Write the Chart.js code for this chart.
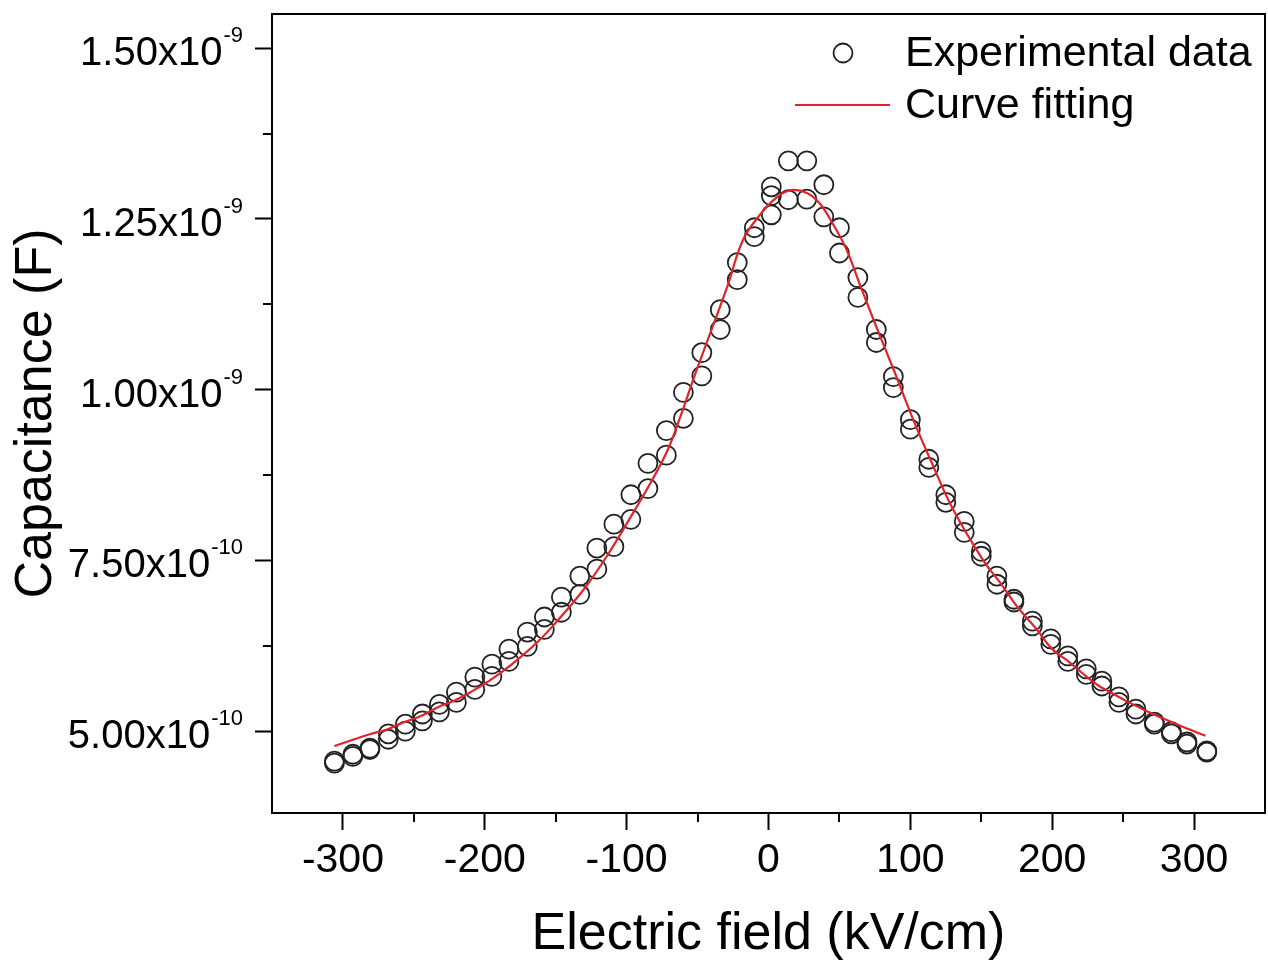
<!DOCTYPE html>
<html>
<head>
<meta charset="utf-8">
<title>Capacitance vs electric field</title>
<script src="https://cdn.jsdelivr.net/npm/chart.js@4.4.0/dist/chart.umd.min.js"></script>
<style>
  html, body { margin: 0; padding: 0; background: #fff; }
  canvas { display: block; }
</style>
</head>
<body>
<canvas id="cvChart" width="1268" height="963"></canvas>
<script>
const NANO = 1e-9;

// electric field (kV/cm) and capacitance (nF), two sweeps
const fieldUp = [-306, -293, -281, -268, -256, -244, -232, -220, -207, -195, -183, -170, -158, -146, -133,
    -121, -109, -97, -85, -72, -60, -47, -34, -22, -10, 2, 14, 27, 39, 50, 63, 76, 88, 100, 113,
    125, 138, 150, 161, 173, 186, 199, 211, 224, 235, 247, 259, 272, 284, 295, 309];
const capUp = [0.456, 0.466, 0.475, 0.496, 0.510, 0.525, 0.539, 0.557, 0.579, 0.598, 0.620, 0.645, 0.667, 0.696, 0.727,
    0.768, 0.803, 0.846, 0.892, 0.940, 0.996, 1.054, 1.117, 1.186, 1.237, 1.297, 1.335, 1.335, 1.300, 1.237, 1.164, 1.088, 1.019, 0.956, 0.898,
    0.846, 0.807, 0.763, 0.727, 0.693, 0.661, 0.635, 0.610, 0.591, 0.573, 0.550, 0.532, 0.513, 0.499, 0.484, 0.471];

const fieldDown = [-306, -293, -281, -268, -256, -244, -232, -220, -207, -195, -183, -170, -158, -146, -133,
    -121, -109, -97, -85, -72, -60, -47, -34, -22, -10, 2, 2, 14, 27, 39, 50, 63, 76, 88, 100, 113,
    125, 138, 150, 161, 173, 186, 199, 211, 224, 235, 247, 259, 272, 284, 295, 309];
const capDown = [0.453, 0.463, 0.473, 0.488, 0.500, 0.515, 0.528, 0.542, 0.561, 0.580, 0.602, 0.624, 0.649, 0.674, 0.700,
    0.737, 0.770, 0.810, 0.855, 0.904, 0.958, 1.020, 1.088, 1.161, 1.224, 1.284, 1.256, 1.278, 1.279, 1.253, 1.200, 1.135, 1.069, 1.003, 0.942, 0.886,
    0.835, 0.791, 0.756, 0.715, 0.689, 0.654, 0.627, 0.602, 0.583, 0.566, 0.542, 0.525, 0.510, 0.496, 0.481, 0.469];

// fitted curve
const fitField = [-306, -292, -280, -268, -257, -245, -233, -222, -210, -198, -187, -175, -163, -152, -130,
    -114, -97, -83, -71, -62, -53, -41, -29, -18, -6, 6, 16, 27, 36, 45, 55, 64, 76, 89, 102, 114,
    130, 151, 163, 175, 189, 200, 212, 224, 233, 240, 254, 268, 282, 296, 308];
const fitCap = [0.478, 0.488, 0.496, 0.503, 0.513, 0.522, 0.535, 0.544, 0.557, 0.572, 0.588, 0.608, 0.630, 0.654, 0.708,
    0.756, 0.814, 0.864, 0.912, 0.961, 1.015, 1.083, 1.151, 1.219, 1.256, 1.282, 1.292, 1.288, 1.273, 1.244, 1.205, 1.156, 1.092, 1.025, 0.956, 0.898,
    0.825, 0.751, 0.718, 0.683, 0.649, 0.620, 0.601, 0.580, 0.566, 0.558, 0.542, 0.528, 0.515, 0.503, 0.493];

// axis ticks
const xTicks = [-300, -200, -100, 0, 100, 200, 300];
const xMinorTicks = [-250, -150, -50, 50, 150, 250];
const yTicks = [0.50, 0.75, 1.00, 1.25, 1.50];
const yMinorTicks = [0.625, 0.875, 1.125, 1.375];

const legendLabels = ['Experimental data', 'Curve fitting'];

const FONT = "'Liberation Sans', Arial, sans-serif";
const FIT_RED = '#e3232b';
const DOT_COLOR = '#222';

Chart.defaults.font.family = FONT;
Chart.defaults.color = '#000';

function toPoints(xs, ys) {
    return xs.map((x, i) => ({ x: x, y: ys[i] * NANO }));
}

// "1.50x10" + superscript "-9"
function sciParts(v) {
    const exp = Math.floor(Math.log10(v) + 1e-9);
    const mant = v / Math.pow(10, exp);
    return [mant.toFixed(2) + 'x10', String(exp)];
}

// box around the plot, minor ticks, y labels with superscripts, legend
const framePlugin = {
    id: 'frame',
    afterDraw(chart) {
        const ctx = chart.ctx;
        const area = chart.chartArea;
        const xs = chart.scales.x;
        const ys = chart.scales.y;

        ctx.save();
        ctx.strokeStyle = '#000';
        ctx.lineWidth = 2;
        ctx.strokeRect(area.left, area.top, area.right - area.left, area.bottom - area.top);

        ctx.beginPath();
        xMinorTicks.forEach(v => {
            const px = Math.round(xs.getPixelForValue(v));
            ctx.moveTo(px, area.bottom);
            ctx.lineTo(px, area.bottom + 9);
        });
        yMinorTicks.forEach(v => {
            const py = Math.round(ys.getPixelForValue(v * NANO));
            ctx.moveTo(area.left, py);
            ctx.lineTo(area.left - 9, py);
        });
        ctx.stroke();

        // y tick labels
        const right = area.left - 29;
        ctx.fillStyle = '#000';
        ctx.textAlign = 'left';
        ctx.textBaseline = 'alphabetic';
        yTicks.forEach(v => {
            const py = ys.getPixelForValue(v * NANO);
            const [mainText, supText] = sciParts(v * NANO);
            ctx.font = '22px ' + FONT;
            const wSup = ctx.measureText(supText).width;
            ctx.fillText(supText, right - wSup, py - 6);
            ctx.font = '40px ' + FONT;
            const wMain = ctx.measureText(mainText).width;
            ctx.fillText(mainText, right - wSup - wMain - 1, py + 17);
        });

        // legend
        ctx.beginPath();
        ctx.arc(843, 53, 9.5, 0, Math.PI * 2);
        ctx.strokeStyle = DOT_COLOR;
        ctx.lineWidth = 1.8;
        ctx.stroke();

        ctx.beginPath();
        ctx.moveTo(795, 105);
        ctx.lineTo(890, 105);
        ctx.strokeStyle = FIT_RED;
        ctx.lineWidth = 2;
        ctx.stroke();

        ctx.font = '43px ' + FONT;
        ctx.textBaseline = 'middle';
        ctx.fillStyle = '#000';
        ctx.fillText(legendLabels[0], 905, 54);
        ctx.fillText(legendLabels[1], 905, 106);
        ctx.restore();
    }
};

const ctx = document.getElementById('cvChart').getContext('2d');

const cvChart = new Chart(ctx, {
    type: 'scatter',
    data: {
        datasets: [
            {
                label: legendLabels[1],
                data: toPoints(fitField, fitCap),
                showLine: true,
                borderColor: FIT_RED,
                borderWidth: 2.2,
                pointRadius: 0,
                tension: 0.4,
                order: 0
            },
            {
                label: legendLabels[0],
                data: toPoints(fieldUp, capUp),
                pointStyle: 'circle',
                pointRadius: 9.5,
                borderWidth: 1.8,
                borderColor: DOT_COLOR,
                backgroundColor: 'rgba(0,0,0,0)',
                order: 1
            },
            {
                label: legendLabels[0],
                data: toPoints(fieldDown, capDown),
                pointStyle: 'circle',
                pointRadius: 9.5,
                borderWidth: 1.8,
                borderColor: DOT_COLOR,
                backgroundColor: 'rgba(0,0,0,0)',
                order: 1
            }
        ]
    },
    options: {
        responsive: false,
        devicePixelRatio: 1,
        animation: false,
        layout: {
            autoPadding: false,
            padding: { top: 14, right: 3, left: 0, bottom: 0 }
        },
        plugins: {
            legend: { display: false },
            tooltip: { enabled: false }
        },
        scales: {
            x: {
                type: 'linear',
                min: -350,
                max: 350,
                afterBuildTicks: (scale) => {
                    scale.ticks = xTicks.map(v => ({ value: v }));
                },
                afterFit: (scale) => {
                    scale.height = 150;
                    scale.paddingLeft = 0;
                    scale.paddingRight = 0;
                },
                border: { display: true, color: '#000', width: 2 },
                grid: {
                    drawOnChartArea: false,
                    drawTicks: true,
                    tickLength: 17,
                    tickColor: '#000',
                    tickWidth: 2
                },
                ticks: {
                    font: { size: 41 },
                    color: '#000',
                    padding: 6,
                    maxRotation: 0
                },
                title: {
                    display: true,
                    text: 'Electric field (kV/cm)',
                    font: { size: 52, lineHeight: 1 },
                    color: '#000',
                    padding: { top: 0, bottom: 2 }
                }
            },
            y: {
                type: 'linear',
                min: 0.38 * NANO,
                max: 1.55 * NANO,
                afterBuildTicks: (scale) => {
                    scale.ticks = yTicks.map(v => ({ value: v * NANO }));
                },
                afterFit: (scale) => {
                    scale.width = 272;
                },
                border: { display: true, color: '#000', width: 2 },
                grid: {
                    drawOnChartArea: false,
                    drawTicks: true,
                    tickLength: 17,
                    tickColor: '#000',
                    tickWidth: 2
                },
                ticks: { display: false },
                title: {
                    display: true,
                    text: 'Capacitance (F)',
                    font: { size: 52, lineHeight: 1 },
                    color: '#000',
                    padding: { top: 11, bottom: 0 }
                }
            }
        }
    },
    plugins: [framePlugin]
});
</script>
</body>
</html>
